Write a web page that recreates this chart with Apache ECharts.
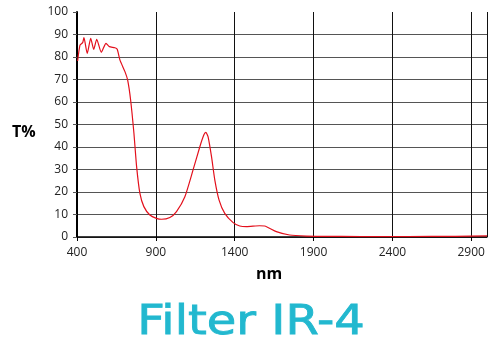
<!DOCTYPE html>
<html>
<head>
<meta charset="utf-8">
<script src="https://cdn.jsdelivr.net/npm/echarts@6/dist/echarts.min.js"></script>
<style>
  html, body { margin: 0; padding: 0; background: #fff; }
  #chart { width: 500px; height: 350px; }
</style>
</head>
<body>
<div id="chart"></div>
<script>
// wavelength (nm) and transmission (%)
var wavelength = [404, 419, 436, 444, 465, 487, 506, 525, 554, 584, 605, 640, 655, 672, 704, 721, 740, 761, 778, 799, 824, 862, 904, 936, 989, 1031, 1084, 1136, 1179, 1204, 1217, 1231, 1253, 1274, 1301, 1337, 1390, 1432, 1474, 1558, 1590, 1664, 1748, 1854, 1950, 2200, 2500, 2800, 3000];
var transmission = [78.2, 85.3, 86.4, 88.6, 81.6, 88.3, 83.4, 87.9, 82.1, 86.1, 84.6, 84.1, 83.4, 78.7, 73.5, 69.8, 60.9, 46.1, 31.3, 19.4, 13.5, 9.8, 8.3, 7.9, 8.7, 11.3, 17.9, 29.8, 40.1, 45.3, 46.5, 44.6, 35.7, 25.3, 16.4, 10.5, 6.4, 4.9, 4.6, 5.0, 4.9, 2.4, 0.9, 0.4, 0.3, 0.2, 0.2, 0.3, 0.5];

var titleText = 'Filter IR-4';

var chart = echarts.init(document.getElementById('chart'));

var points = wavelength.map(function (w, i) { return [w, transmission[i]]; });

var labelFont = { fontFamily: 'Open Sans', fontSize: 12, color: '#222' };

chart.setOption({
  animation: false,
  grid: { left: 77, right: 13, top: 12, bottom: 113 },
  xAxis: {
    type: 'value',
    min: 400,
    max: 3000,
    interval: 500,
    axisLine: { lineStyle: { color: '#000', width: 1.5 } },
    axisTick: { show: true, length: 4, lineStyle: { color: '#000' } },
    axisLabel: Object.assign({ margin: 10, showMaxLabel: false, formatter: function (v) { return String(v); } }, labelFont),
    splitLine: { show: true, lineStyle: { color: '#111', width: 1 } }
  },
  yAxis: {
    type: 'value',
    min: 0,
    max: 100,
    interval: 10,
    axisLine: { show: true, lineStyle: { color: '#000', width: 2 } },
    axisTick: { show: true, length: 4, lineStyle: { color: '#555' } },
    axisLabel: Object.assign({ margin: 9 }, labelFont),
    splitLine: { show: true, showMaxLine: false, lineStyle: { color: '#555', width: 1.2 } }
  },
  series: [{
    type: 'line',
    data: points,
    smooth: 0.2,
    symbol: 'none',
    lineStyle: { color: '#e3101c', width: 1.2 }
  }],
  graphic: [
    { type: 'text', left: 12, top: 124,
      style: { text: 'T%', fontFamily: 'Open Sans', fontWeight: 'bold', fontSize: 16, fill: '#000' } },
    { type: 'text', left: 256, top: 266,
      style: { text: 'nm', fontFamily: 'Open Sans', fontWeight: 'bold', fontSize: 16, fill: '#000' } },
    // wide geometric title: DejaVu stretched horizontally, thickened with a thin stroke
    { type: 'text', x: 251, y: 324, scaleX: 1.2,
      style: { text: titleText, fontFamily: 'DejaVu Sans', fontSize: 40,
               fill: '#22b8cf', stroke: '#22b8cf', lineWidth: 0.8,
               align: 'center', verticalAlign: 'middle' } }
  ]
});
</script>
</body>
</html>
